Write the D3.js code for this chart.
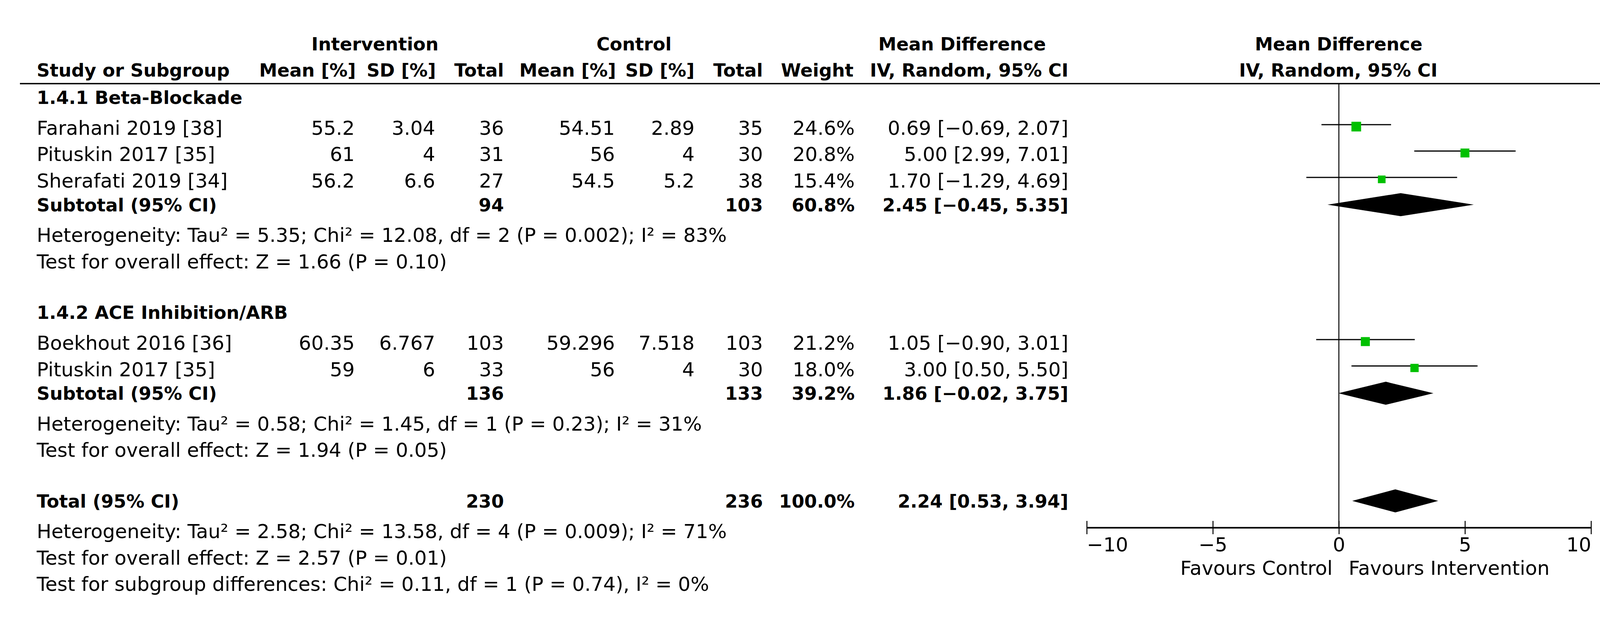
<!DOCTYPE html>
<html>
<head>
    <title>Forest plot - LVEF</title>
    <script src="https://d3js.org/d3.v7.min.js"></script>
    <style>
        body { margin: 0; background: #fff; }
        text { font-family: "DejaVu Sans", Verdana, sans-serif; fill: #000; }
    </style>
</head>
<body>
    <div id="chart"></div>

    <script>
        // Study level data
        var studyNames = ['Farahani 2019 [38]', 'Pituskin 2017 [35]', 'Sherafati 2019 [34]', 'Boekhout 2016 [36]', 'Pituskin 2017 [35]'];
        var studyGroup = [0, 0, 0, 1, 1];
        var intMean = [55.2, 61, 56.2, 60.35, 59];
        var intSD = [3.04, 4, 6.6, 6.767, 6];
        var intTotal = [36, 31, 27, 103, 33];
        var ctrlMean = [54.51, 56, 54.5, 59.296, 56];
        var ctrlSD = [2.89, 4, 5.2, 7.518, 4];
        var ctrlTotal = [35, 30, 38, 103, 30];
        var weights = [24.6, 20.8, 15.4, 21.2, 18.0];
        var md = [0.69, 5.00, 1.70, 1.05, 3.00];
        var ciLow = [-0.69, 2.99, -1.29, -0.90, 0.50];
        var ciHigh = [2.07, 7.01, 4.69, 3.01, 5.50];

        // Subgroup data
        var groupNames = ['1.4.1 Beta-Blockade', '1.4.2 ACE Inhibition/ARB'];
        var subIntTotal = [94, 136];
        var subCtrlTotal = [103, 133];
        var subWeight = [60.8, 39.2];
        var subMd = [2.45, 1.86];
        var subLow = [-0.45, -0.02];
        var subHigh = [5.35, 3.75];
        var groupHet = [
            'Heterogeneity: Tau² = 5.35; Chi² = 12.08, df = 2 (P = 0.002); I² = 83%',
            'Heterogeneity: Tau² = 0.58; Chi² = 1.45, df = 1 (P = 0.23); I² = 31%'
        ];
        var groupTest = [
            'Test for overall effect: Z = 1.66 (P = 0.10)',
            'Test for overall effect: Z = 1.94 (P = 0.05)'
        ];

        // Overall data
        var totalInt = 230;
        var totalCtrl = 236;
        var totalWeight = 100.0;
        var totalMd = 2.24;
        var totalLow = 0.53;
        var totalHigh = 3.94;
        var totalNotes = [
            'Heterogeneity: Tau² = 2.58; Chi² = 13.58, df = 4 (P = 0.009); I² = 71%',
            'Test for overall effect: Z = 2.57 (P = 0.01)',
            'Test for subgroup differences: Chi² = 0.11, df = 1 (P = 0.74), I² = 0%'
        ];

        var xTicks = [-10, -5, 0, 5, 10];
        var favours = ['Favours Control', 'Favours Intervention'];

        var width = 4132, height = 1584;
        var fontSize = 50, boldSize = 46.5;
        var col = { label: 94, intMean: 908, intSD: 1114, intN: 1290, ctrlMean: 1574, ctrlSD: 1778, ctrlN: 1953, weight: 2188, ci: 2735 };
        var headerLineY = 214, axisY = 1350;

        var f2 = d3.format('.2f');
        var f1 = d3.format('.1f');
        function ciText(m, lo, hi) { return f2(m) + ' [' + f2(lo) + ', ' + f2(hi) + ']'; }

        // Build the rows of the table
        var rows = [];
        groupNames.forEach(function(name, g) {
            rows.push({ type: 'section', text: name });
            studyGroup.forEach(function(sg, i) {
                if (sg === g) rows.push({ type: 'study', i: i });
            });
            rows.push({ type: 'subtotal', g: g });
            rows.push({ type: 'note', text: groupHet[g] });
            rows.push({ type: 'note', text: groupTest[g] });
        });
        rows.push({ type: 'total' });
        totalNotes.forEach(function(t) { rows.push({ type: 'note', text: t }); });

        // Row spacing in row units
        function gapBefore(prev, cur) {
            if (!prev) return 0;
            if (cur === 'section' || cur === 'total') return 1.92;
            if (cur === 'study') return prev === 'section' ? 1.17 : 1;
            if (cur === 'subtotal') return 0.9;
            if (cur === 'note') return (prev === 'subtotal' || prev === 'total') ? 1.16 : 1;
            return 1;
        }
        var slot = 0;
        rows.forEach(function(r, k) {
            slot += gapBefore(k ? rows[k - 1].type : null, r.type);
            r.slot = slot;
        });

        var y = d3.scaleLinear().domain([0, 1]).range([266, 333.5]);
        var x = d3.scaleLinear().domain([-10, 10]).range([2782, 4073]);
        var boxSize = d3.scaleSqrt().domain([0, 100]).range([0, 50]);

        var svg = d3.select('#chart')
            .append('svg')
            .attr('width', width)
            .attr('height', height);

        svg.append('rect').attr('width', width).attr('height', height).attr('fill', '#fff');

        // Column headers
        function addText(xp, yp, txt, anchor, bold) {
            return svg.append('text')
                .attr('x', xp)
                .attr('y', yp)
                .attr('text-anchor', anchor || 'start')
                .attr('font-size', bold ? boldSize : fontSize)
                .attr('font-weight', bold ? 'bold' : 'normal')
                .text(txt);
        }
        addText(960, 129, 'Intervention', 'middle', true);
        addText(1623, 129, 'Control', 'middle', true);
        addText(2463, 129, 'Mean Difference', 'middle', true);
        addText(3427, 129, 'Mean Difference', 'middle', true);
        addText(col.label, 196, 'Study or Subgroup', 'start', true);
        addText(911, 196, 'Mean [%]', 'end', true);
        addText(1116, 196, 'SD [%]', 'end', true);
        addText(col.intN, 196, 'Total', 'end', true);
        addText(1577, 196, 'Mean [%]', 'end', true);
        addText(col.ctrlSD, 196, 'SD [%]', 'end', true);
        addText(col.ctrlN, 196, 'Total', 'end', true);
        addText(2185, 196, 'Weight', 'end', true);
        addText(col.ci, 196, 'IV, Random, 95% CI', 'end', true);
        addText(3426, 196, 'IV, Random, 95% CI', 'middle', true);

        // Header rule
        svg.append('line')
            .attr('x1', 51).attr('x2', 4120)
            .attr('y1', headerLineY).attr('y2', headerLineY)
            .attr('stroke', '#000').attr('stroke-width', 3.5);

        // Line of no effect
        svg.append('line')
            .attr('x1', x(0)).attr('x2', x(0))
            .attr('y1', headerLineY).attr('y2', axisY)
            .attr('stroke', '#000').attr('stroke-width', 2.5);

        function diamond(m, lo, hi, cy) {
            var h = 29.5;
            return 'M' + x(lo) + ',' + cy + 'L' + x(m) + ',' + (cy - h) + 'L' + x(hi) + ',' + cy + 'L' + x(m) + ',' + (cy + h) + 'Z';
        }

        // Table rows and plot marks
        rows.forEach(function(r) {
            var by = y(r.slot);
            if (r.type === 'section') {
                addText(col.label, by, r.text, 'start', true);
            } else if (r.type === 'note') {
                addText(col.label, by, r.text, 'start', false);
            } else if (r.type === 'study') {
                var i = r.i;
                addText(col.label, by, studyNames[i], 'start', false);
                addText(col.intMean, by, intMean[i], 'end', false);
                addText(col.intSD, by, intSD[i], 'end', false);
                addText(col.intN, by, intTotal[i], 'end', false);
                addText(col.ctrlMean, by, ctrlMean[i], 'end', false);
                addText(col.ctrlSD, by, ctrlSD[i], 'end', false);
                addText(col.ctrlN, by, ctrlTotal[i], 'end', false);
                addText(col.weight, by, f1(weights[i]) + '%', 'end', false);
                addText(col.ci, by, ciText(md[i], ciLow[i], ciHigh[i]), 'end', false);

                var ly = by - 26;
                svg.append('line')
                    .attr('x1', x(ciLow[i])).attr('x2', x(ciHigh[i]))
                    .attr('y1', ly).attr('y2', ly)
                    .attr('stroke', '#000').attr('stroke-width', 3);
                var s = boxSize(weights[i]);
                svg.append('rect')
                    .attr('x', x(md[i]) - s / 2)
                    .attr('y', ly + 5 - s / 2)
                    .attr('width', s)
                    .attr('height', s)
                    .attr('fill', '#00c000');
            } else if (r.type === 'subtotal') {
                var g = r.g;
                addText(col.label, by, 'Subtotal (95% CI)', 'start', true);
                addText(col.intN, by, subIntTotal[g], 'end', true);
                addText(col.ctrlN, by, subCtrlTotal[g], 'end', true);
                addText(col.weight, by, f1(subWeight[g]) + '%', 'end', true);
                addText(col.ci, by, ciText(subMd[g], subLow[g], subHigh[g]), 'end', true);
                svg.append('path')
                    .attr('d', diamond(subMd[g], subLow[g], subHigh[g], by - 17))
                    .attr('fill', '#000');
            } else if (r.type === 'total') {
                addText(col.label, by, 'Total (95% CI)', 'start', true);
                addText(col.intN, by, totalInt, 'end', true);
                addText(col.ctrlN, by, totalCtrl, 'end', true);
                addText(col.weight, by, f1(totalWeight) + '%', 'end', true);
                addText(col.ci, by, ciText(totalMd, totalLow, totalHigh), 'end', true);
                svg.append('path')
                    .attr('d', diamond(totalMd, totalLow, totalHigh, by - 17))
                    .attr('fill', '#000');
            }
        });

        // Axis
        var axis = svg.append('g')
            .attr('transform', 'translate(0,' + axisY + ')')
            .call(d3.axisBottom(x).tickValues(xTicks).tickSize(17).tickSizeOuter(0));
        axis.select('.domain').attr('stroke-width', 4);
        axis.selectAll('.tick line').attr('y1', -17).attr('y2', 17).attr('stroke-width', 2.5);
        axis.selectAll('.tick text')
            .attr('y', 61)
            .attr('dy', 0)
            .attr('font-size', fontSize)
            .attr('font-family', '"DejaVu Sans", Verdana, sans-serif')
            .attr('text-anchor', function(d, i) { return i === 0 ? 'start' : (i === xTicks.length - 1 ? 'end' : 'middle'); });

        addText(x(0) - 16, 1471, favours[0], 'end', false);
        addText(x(0) + 25, 1471, favours[1], 'start', false);
    </script>
</body>
</html>
